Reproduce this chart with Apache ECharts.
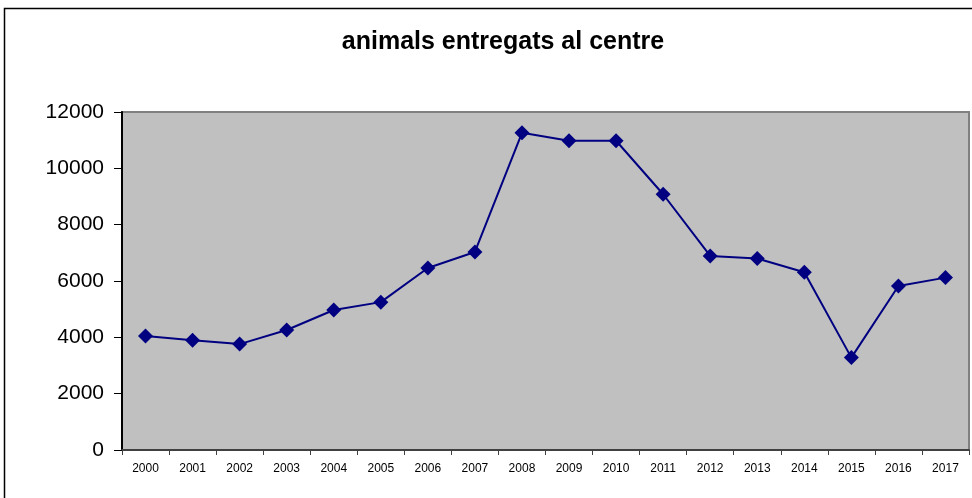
<!DOCTYPE html>
<html>
<head>
<meta charset="utf-8">
<script src="https://cdn.jsdelivr.net/npm/echarts@6/dist/echarts.min.js"></script>
<style>
  html, body { margin: 0; padding: 0; background: #fff; }
  #chart { width: 972px; height: 498px; }
</style>
</head>
<body>
<div id="chart"></div>
<script>
const years = ['2000', '2001', '2002', '2003', '2004', '2005', '2006', '2007', '2008',
  '2009', '2010', '2011', '2012', '2013', '2014', '2015', '2016', '2017'];
const animals = [4050, 3900, 3760, 4260, 4970, 5250, 6460, 7030, 11260,
  10980, 10980, 9080, 6890, 6800, 6310, 3280, 5820, 6120];

const chart = echarts.init(document.getElementById('chart'), null, { renderer: 'canvas' });

chart.setOption({
  animation: false,
  backgroundColor: '#fff',
  title: {
    text: 'animals entregats al centre',
    left: 498,
    top: 25,
    textAlign: 'center',
    textStyle: {
      fontFamily: 'Liberation Sans, Arial, sans-serif',
      fontSize: 25,
      fontWeight: 'bold',
      color: '#000',
    },
  },
  graphic: [
    {
      type: 'rect',
      shape: { x: 4.5, y: 8.5, width: 1000, height: 600 },
      style: { fill: 'none', stroke: '#000', lineWidth: 1.5 },
      z: 10,
    },
  ],
  grid: {
    left: 122,
    right: 3,
    top: 112,
    bottom: 48,
    show: true,
    backgroundColor: '#C0C0C0',
    borderColor: '#808080',
    borderWidth: 2,
  },
  xAxis: {
    type: 'category',
    data: years,
    boundaryGap: true,
    axisLine: { lineStyle: { color: '#404040', width: 2 } },
    axisTick: { show: true, length: 5, lineStyle: { color: '#404040' } },
    axisLabel: {
      color: '#000',
      fontSize: 12,
      fontFamily: 'Liberation Sans, Arial, sans-serif',
      margin: 13,
      interval: 0,
    },
    splitLine: { show: false },
  },
  yAxis: {
    type: 'value',
    min: 0,
    max: 12000,
    interval: 2000,
    axisLine: { show: true, lineStyle: { color: '#000', width: 2 } },
    axisTick: { show: true, length: 8, lineStyle: { color: '#000' } },
    axisLabel: {
      color: '#000',
      fontSize: 21,
      fontFamily: 'Liberation Sans, Arial, sans-serif',
      margin: 18,
      formatter: (value) => String(value),
    },
    splitLine: { show: false },
  },
  series: [
    {
      type: 'line',
      data: animals,
      symbol: 'diamond',
      symbolSize: 15,
      lineStyle: { color: '#000080', width: 2 },
      itemStyle: { color: '#000080' },
    },
  ],
});
</script>
</body>
</html>
